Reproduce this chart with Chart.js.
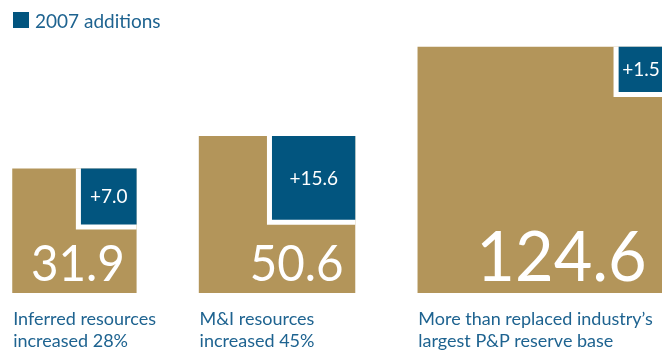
<!DOCTYPE html>
<html>
<head>
<meta charset="utf-8">
<script src="https://cdn.jsdelivr.net/npm/chart.js@4.4.1/dist/chart.umd.min.js"></script>
<style>
    html, body { margin: 0; padding: 0; background: #ffffff; }
    #chart { display: block; }
</style>
</head>
<body>
<canvas id="chart" width="662" height="350"></canvas>
<script>

// values
const categories = ['Inferred resources', 'M&I resources', 'P&P reserves'];
const totals2007 = [31.9, 50.6, 124.6];
const additions2007 = [7.0, 15.6, 1.5];
const captionLines = [
    ['Inferred resources', 'increased 28%'],
    ['M&I resources', 'increased 45%'],
    ['More than replaced industry\u2019s', 'largest P&P reserve base']
];
const legendLabel = '2007 additions';

const GOLD = '#b3955a';
const BLUE = '#02557f';
const TEXT_BLUE = '#1e6390';
const FONT = 'Lato, "Open Sans", sans-serif';

// both axes are in "side units" (side = sqrt(value)) so square area follows the value
const xMaxUnits = 30;
const yMaxUnits = 13.28;
const startUnits = 0.55;
const gapUnits = 2.8;
const insetScale = 0.96;
const minInset = 2.05;
const whiteEdge = 0.23;

function getSquareLayout() {
    let layout = [];
    let left = startUnits;
    for (var i = 0; i < totals2007.length; i++) {
        let side = Math.sqrt(totals2007[i]);
        let inset = Math.max(Math.sqrt(additions2007[i]) * insetScale, minInset);
        layout.push({ left: left, right: left + side, side: side, inset: inset });
        left += side + gapUnits;
    }
    return layout;
}

function flatEdge(x0, x1, y) {
    return [{ x: x0, y: y }, { x: x1, y: y }];
}

function buildDatasets(layout) {
    let datasets = [];
    for (var i = 0; i < layout.length; i++) {
        let sq = layout[i];
        // gold square for the total, filled down to zero
        datasets.push({
            label: categories[i],
            data: flatEdge(sq.left, sq.right, sq.side),
            backgroundColor: GOLD,
            fill: 'origin',
            order: 3
        });
        // white rim round the additions square
        datasets.push({
            label: '',
            data: flatEdge(sq.right - sq.inset - whiteEdge, sq.right, sq.side),
            backgroundColor: '#ffffff',
            fill: { value: sq.side - sq.inset - whiteEdge },
            order: 2
        });
        datasets.push({
            label: legendLabel,
            data: flatEdge(sq.right - sq.inset, sq.right, sq.side),
            backgroundColor: BLUE,
            fill: { value: sq.side - sq.inset },
            order: 1
        });
    }
    return datasets;
}

const squareLayout = getSquareLayout();

// text squeezed a little, the original face is narrower than Lato
function drawNarrowText(ctx, text, x, y, squeeze) {
    ctx.save();
    ctx.translate(x, y);
    ctx.scale(squeeze, 1);
    ctx.fillText(text, 0, 0);
    ctx.restore();
}

const squareText = {
    id: 'squareText',
    afterDraw(chart) {
        const ctx = chart.ctx;
        const xs = chart.scales.x;
        const ys = chart.scales.y;
        ctx.save();

        // legend
        ctx.fillStyle = BLUE;
        ctx.fillRect(13, 12, 16, 16);
        ctx.fillStyle = TEXT_BLUE;
        ctx.font = '19px ' + FONT;
        ctx.textAlign = 'left';
        ctx.textBaseline = 'alphabetic';
        ctx.fillText(legendLabel, 35, 28);

        for (var i = 0; i < squareLayout.length; i++) {
            let sq = squareLayout[i];
            let left = xs.getPixelForValue(sq.left);
            let right = xs.getPixelForValue(sq.right);
            let bottom = ys.getPixelForValue(0);
            let sidePx = right - left;

            // total value, bottom right of the gold square
            let bigSize = Math.max(50, sidePx * 0.285);
            ctx.fillStyle = '#ffffff';
            ctx.font = bigSize + 'px ' + FONT;
            ctx.textAlign = 'right';
            drawNarrowText(ctx, totals2007[i].toFixed(1), right - bigSize * 0.24, bottom - 12, 0.95);

            // addition, centred in the blue square
            let bx = xs.getPixelForValue(sq.right - sq.inset / 2);
            let by = ys.getPixelForValue(sq.side - sq.inset / 2);
            ctx.font = '19px ' + FONT;
            ctx.textAlign = 'center';
            ctx.fillText('+' + additions2007[i].toFixed(1), bx, by + 7);

            // caption under the square
            ctx.fillStyle = TEXT_BLUE;
            ctx.font = '18px ' + FONT;
            ctx.textAlign = 'left';
            for (var j = 0; j < captionLines[i].length; j++) {
                ctx.fillText(captionLines[i][j], left + 1, 325 + j * 22);
            }
        }
        ctx.restore();
    }
};

new Chart(document.getElementById('chart'), {
    type: 'line',
    data: { datasets: buildDatasets(squareLayout) },
    options: {
        responsive: false,
        animation: false,
        events: [],
        layout: { padding: { left: 0, right: 0, top: 0, bottom: 57 } },
        elements: {
            line: { borderWidth: 0, tension: 0 },
            point: { radius: 0 }
        },
        scales: {
            x: { type: 'linear', display: false, min: 0, max: xMaxUnits },
            y: { type: 'linear', display: false, min: 0, max: yMaxUnits }
        },
        plugins: {
            legend: { display: false },
            tooltip: { enabled: false }
        }
    },
    plugins: [squareText]
});
</script>
</body>
</html>
